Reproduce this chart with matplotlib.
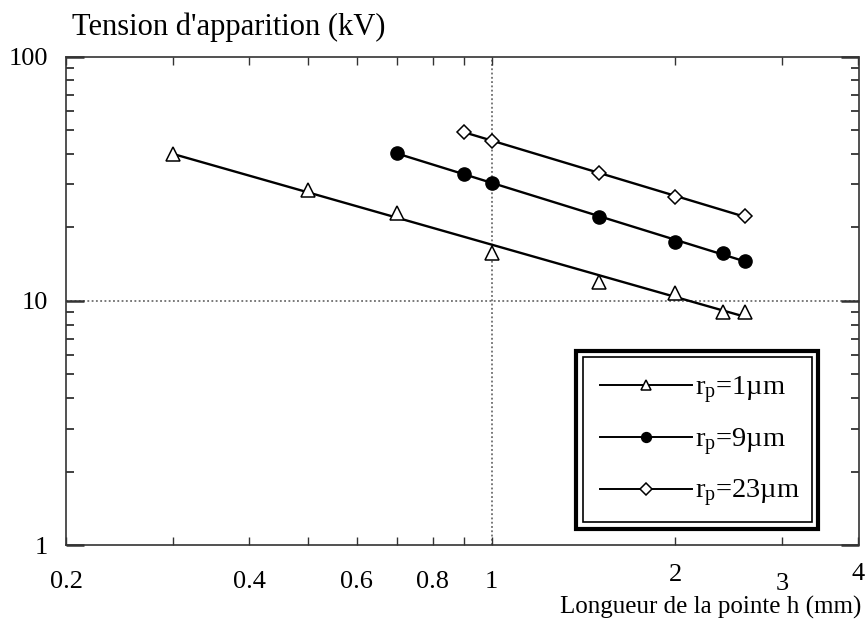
import numpy as np
import matplotlib
matplotlib.use("Agg")
import matplotlib.pyplot as plt
from matplotlib.patches import Rectangle
from matplotlib.ticker import FixedLocator, FixedFormatter, NullFormatter

plt.rcParams['font.family'] = ['Liberation Serif', 'DejaVu Serif']
plt.rcParams['mathtext.fontset'] = 'custom'
plt.rcParams['mathtext.rm'] = 'Liberation Serif'
plt.rcParams['mathtext.it'] = 'Liberation Serif:italic'

# ---- data ----
h_r1 = [0.3, 0.5, 0.7, 1.0, 1.5, 2.0, 2.4, 2.6]
v_r1 = [40.0, 28.4, 22.9, 15.7, 12.0, 10.8, 9.0, 9.0]

h_r9 = [0.7, 0.9, 1.0, 1.5, 2.0, 2.4, 2.6]
v_r9 = [40.4, 33.1, 30.3, 22.0, 17.5, 15.7, 14.6]

h_r23 = [0.9, 1.0, 1.5, 2.0, 2.6]
v_r23 = [49.3, 45.3, 33.3, 26.7, 22.3]

labels = [r"r$_{\mathregular{p}}$=1µm", r"r$_{\mathregular{p}}$=9µm", r"r$_{\mathregular{p}}$=23µm"]

x_ticks = [0.2, 0.4, 0.6, 0.8, 1, 2, 3, 4]
x_ticklabels = ["0.2", "0.4", "0.6", "0.8", "1", "2", "3", "4"]
x_minor = [0.3, 0.5, 0.7, 0.9]
y_ticks = [1, 10, 100]
y_ticklabels = ["1", "10", "100"]
y_minor = [2, 3, 4, 5, 6, 7, 8, 9, 20, 30, 40, 50, 60, 70, 80, 90]

FS_TICK = 19
FS_LEG = 20.5
fig = plt.figure(figsize=(8.65, 6.25), dpi=100)
ax = fig.add_axes([66/865, 1-545/625, (858.5-66)/865, (545-56.7)/625])
ax.set_xscale('log')
ax.set_yscale('log')
ax.set_xlim(0.2, 4)
ax.set_ylim(1, 100)

# reference lines
ax.axhline(10, color='#555555', lw=1.1, ls=(0, (1.2, 1.6)), zorder=1)
ax.axvline(1, color='#555555', lw=1.1, ls=(0, (1.2, 1.6)), zorder=1)

series = [
    (h_r1, v_r1, dict(marker='^', ms=10, mfc='white', mec='black', mew=1.1)),
    (h_r9, v_r9, dict(marker='o', ms=9.5, mfc='black', mec='black', mew=1.0)),
    (h_r23, v_r23, dict(marker='D', ms=7.5, mfc='white', mec='black', mew=1.1)),
]
handles = []
for (hx, vy, mk), lab in zip(series, labels):
    hx = np.array(hx); vy = np.array(vy)
    p = np.polyfit(np.log10(hx), np.log10(vy), 1)
    xf = np.array([hx.min(), hx.max()])
    yf = 10 ** np.polyval(p, np.log10(xf))
    ax.plot(xf, yf, color='black', lw=1.7, zorder=2)
    ax.plot(hx, vy, ls='none', zorder=3, **mk)
    lm = dict(mk)
    lm['ms'] = mk['ms'] * 0.75
    h, = ax.plot([], [], color='black', lw=1.4, **lm)
    handles.append(h)

# ticks
ax.xaxis.set_major_locator(FixedLocator(x_ticks))
ax.xaxis.set_major_formatter(FixedFormatter(x_ticklabels))
ax.xaxis.set_minor_locator(FixedLocator(x_minor))
ax.xaxis.set_minor_formatter(NullFormatter())
ax.yaxis.set_major_locator(FixedLocator(y_ticks))
ax.yaxis.set_major_formatter(FixedFormatter(y_ticklabels))
ax.yaxis.set_minor_locator(FixedLocator(y_minor))
ax.yaxis.set_minor_formatter(NullFormatter())

ax.tick_params(axis='x', which='both', direction='in', top=True, bottom=True,
               length=6, width=1.0, color='#333333', labelsize=FS_TICK, pad=19)
ax.tick_params(axis='y', which='minor', direction='in', left=True, right=True,
               length=6, width=1.3, color='#333333')
ax.tick_params(axis='y', which='major', direction='in', left=True, right=True,
               length=13, width=1.8, color='#333333', labelsize=FS_TICK, pad=13)

xpads = [19, 19, 19, 19, 19, 14, 20, 13]
for t, pd in zip(ax.xaxis.get_major_ticks(), xpads):
    t.set_pad(pd)

for s in ax.spines.values():
    s.set_color('#333333')
    s.set_linewidth(1.2)

# legend with double frame
leg = ax.legend(handles, labels, loc='center', bbox_to_anchor=(0.80, 0.211),
                frameon=False, fontsize=FS_LEG, handlelength=3.23, handletextpad=0.12,
                labelspacing=0.7, borderpad=0)
for (x0, y0, x1, y1, lw) in [(0.6435, 0.0328, 0.9489, 0.3979, 3.0),
                              (0.6524, 0.0477, 0.9410, 0.3850, 1.2)]:
    ax.add_patch(Rectangle((x0, y0), x1 - x0, y1 - y0, transform=ax.transAxes,
                           fill=False, ec='black', lw=lw, zorder=5))

fig.text(72/865, 1-35/625, "Tension d'apparition (kV)", fontsize=22,
         ha='left', va='baseline')
fig.text(861/865, 1-614/625, "Longueur de la pointe h (mm)", fontsize=18,
         ha='right', va='baseline')

fig.savefig("out.png", dpi=100)
